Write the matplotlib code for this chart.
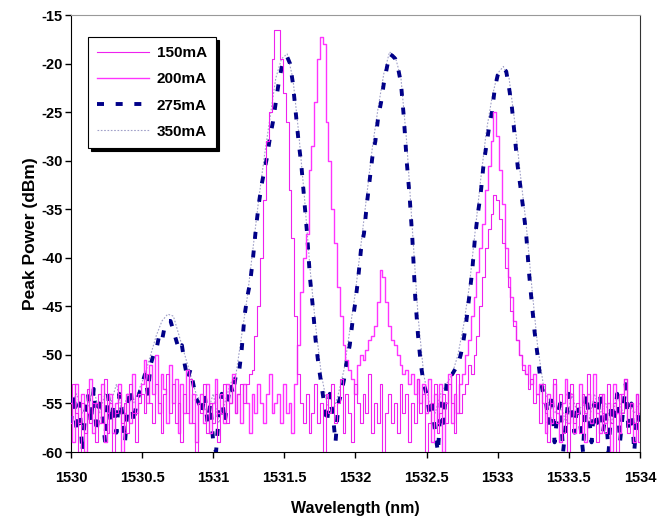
import numpy as np
import matplotlib
matplotlib.use('Agg')
import matplotlib.pyplot as plt

plt.rcParams['font.family'] = ['Liberation Sans', 'DejaVu Sans']
plt.rcParams['axes.unicode_minus'] = False

# wavelength grids (nm)
wl_fine = np.round(np.arange(0, 201) * 0.02 + 1530.0, 3)
wl_coarse = np.round(np.arange(0, 101) * 0.04 + 1530.0, 3)

# peak power (dBm)
p150 = [-57, -53, -56, -60, -55, -58, -53.5, -57, -55, -59,
        -54, -57, -52.5, -58, -55, -60, -56, -54, -57, -55,
        -58, -53, -56, -59, -55,
        -54, -56, -52, -55, -57, -53, -55, -58, -54, -52,
        -56, -53, -57, -55, -59, -54, -56, -52.5, -57, -60, -55,
        -56, -53, -58, -55, -57, -54, -59, -56, -53, -57,
        -55, -52.5, -56, -54, -53, -55,
        -53, -52, -51.5, -48, -45, -40, -34, -28, -25, -19.5,
        -16.5, -16.5, -19.5, -23, -26, -33, -38, -46, -52,
        -55, -57, -54, -58, -56, -53, -57, -55, -60, -54,
        -56, -53, -57, -55, -52.5, -58, -54, -56, -59, -53,
        -55, -57, -54, -56, -52, -58, -55, -57, -53, -60,
        -56, -54, -57, -55, -58, -53, -56, -54, -59, -55,
        -57, -52.5, -56, -54, -60, -57, -55, -53, -58, -56,
        -54, -57, -53, -55, -58, -52, -56, -54, -53, -51,
        -52, -50,
        -48, -45, -42, -39, -37, -35.5, -33.5, -34, -36, -38.5,
        -41, -43, -45.5, -47, -48.5, -50, -51.5, -52, -53.5, -52.5, -55,
        -54, -57, -53, -56, -59, -55, -52.5, -57, -54, -58,
        -56, -60, -53, -57, -55, -58, -54, -56, -52, -57,
        -55, -59, -54, -56, -58, -53, -57, -55, -60, -54,
        -56, -52.5, -58, -55, -57, -54, -59]

p200 = [-55, -59, -53, -57, -54, -60, -56, -52.5, -58, -55,
        -57, -53, -59, -56, -54, -58, -55, -53, -60, -56,
        -54, -57, -52, -56, -54,
        -53, -50.5, -55, -51, -54, -50, -56, -52, -53.5, -57,
        -51, -55, -52.5, -58, -53, -56, -51.5, -57, -54, -59, -55,
        -54, -57, -53, -58, -55, -52.5, -56, -54, -57, -53,
        -55, -52, -56, -54, -57, -53, -55, -58, -54, -56,
        -53, -55, -57, -54, -52, -56, -55,
        -54, -57, -53, -56, -55, -58, -53,
        -49, -43.5, -40, -37.5, -31, -28.5, -24, -19.5, -17.3, -18,
        -26, -30, -35, -38.5, -43, -46, -49, -50.5, -51.5, -52.5, -54,
        -51, -50, -50.5, -49.5, -48.5, -48, -47, -44.5, -41.3, -42,
        -44.5, -47, -48.5, -49, -50, -51, -52, -51.5, -53, -52,
        -54, -52.5, -55, -53,
        -56, -52.5, -59, -54, -57, -53, -60, -55, -52, -57,
        -54, -56, -53,
        -52, -50, -48.5, -46, -44, -41.5, -39, -36.5, -33, -30.5,
        -28, -25, -27.5, -31, -34.5, -39, -42, -44, -46.5, -48.5,
        -50, -51, -52, -51, -53, -52, -54, -53,
        -55, -58, -54, -57, -53, -56, -59, -55, -52.5, -57,
        -54, -58, -56, -53, -55, -59, -54, -57, -52, -56,
        -58, -54, -57, -55, -60, -53, -56, -58, -54, -52.5,
        -57, -55, -59, -54, -56]

p275 = [-57, -54, -58, -55, -60, -56, -54, -57, -53.5, -58,
        -55, -56, -59, -54, -57, -55, -58, -54, -56, -59,
        -55, -53.5, -57, -55, -54,
        -53, -52, -54, -51, -50, -49.5, -48, -48.5, -47, -46.5,
        -46.5, -47.5, -48.5, -49.5, -49, -51, -52.5, -51.5, -53, -54.5, -55,
        -56, -54, -57, -55, -59, -60, -56, -54, -57, -55, -53, -54, -52,
        -52, -49.5, -46, -44, -42.5, -40, -37, -34.5, -32.5, -31,
        -29.5, -27.5, -26, -24, -22, -20.5, -19.5, -19.3, -20, -22,
        -25, -28, -30.5, -34, -37.5, -42, -45, -48.5, -51, -53,
        -55, -57, -54, -56, -59, -55,
        -54, -52.5, -50.5, -49, -46.5, -44.5, -42, -39, -37.5, -34.5,
        -32, -29.5, -28, -25.5, -24, -22, -20.5, -19, -19.2, -19.5,
        -20.5, -22, -25.5, -30, -33.5, -38, -44, -48, -51, -53,
        -54, -56, -55, -58, -60, -55, -57, -53,
        -52, -52, -51.5, -51, -50, -48.5, -46.5, -44, -41.5, -38,
        -35.5, -33.5, -30.5, -28.5, -26.5, -25, -22.5, -21.2, -20.5, -20.5,
        -20.8, -22.5, -24.5, -27.5, -30.5, -32.7, -35, -37.5, -41.5, -44.7,
        -47.7, -50, -52.5, -54,
        -55, -57, -54, -59, -56, -55, -60, -57, -54, -56,
        -58, -55, -57, -60, -54, -56, -59, -55, -57, -54,
        -58, -56, -60, -55, -57, -54, -59, -56, -53, -58,
        -55, -60, -56, -57]

p350 = [-55, -54, -56, -55, -53.5, -56, -54, -55, -53, -56, -54, -55, -53.5,
        -52, -50, -48, -46.5, -45.8, -46, -48, -50, -52, -54,
        -55, -56, -54, -57, -55, -53,
        -52, -48, -44, -39, -34, -29.5, -25.5, -21.5, -19.5, -19,
        -21.5, -27, -33.5, -41, -47, -52,
        -55, -56, -54,
        -51.5, -47.5, -43.5, -38.5, -33.5, -28.5, -24.5, -21, -18.8, -19.3,
        -21.5, -28, -37, -46, -52,
        -55, -56, -54, -53,
        -52, -50, -47, -43, -37.5, -32, -27, -23.5, -21, -20.3,
        -21.5, -26, -31.5, -36.5, -43, -49, -53, -55,
        -56, -55, -57, -54, -56, -55, -57, -54, -56, -55, -57, -54,
        -56, -55, -56, -55]

x_ticks = [1530, 1530.5, 1531, 1531.5, 1532, 1532.5, 1533, 1533.5, 1534]
x_labels = ['1530', '1530.5', '1531', '1531.5', '1532', '1532.5', '1533', '1533.5', '1534']
y_ticks = [-60, -55, -50, -45, -40, -35, -30, -25, -20, -15]

fig = plt.figure(figsize=(6.67, 5.19), dpi=100)
ax = fig.add_axes([0.1064, 0.129, 0.853, 0.842])

ax.plot(wl_coarse, p350, color='#a0a0c8', lw=0.8, ls=(0, (1.5, 1.5)), label='350mA', zorder=2)
ax.plot(wl_fine, p275, color='#000088', lw=2.8, ls=(0, (1.8, 3.0)), label='275mA', zorder=3)
ax.plot(wl_fine, p200, color='#ff33ff', lw=1.0, drawstyle='steps-mid', label='200mA', zorder=4)
ax.plot(wl_fine, p150, color='#ee22ee', lw=0.8, drawstyle='steps-mid', label='150mA', zorder=5)

ax.set_xlim(1530, 1534)
ax.set_ylim(-60, -15)
ax.set_xticks(x_ticks)
ax.set_xticklabels(x_labels)
ax.set_yticks(y_ticks)
ax.tick_params(direction='out', length=4, width=1, labelsize=10.5)
ax.tick_params(axis='x', pad=10)
ax.tick_params(axis='y', pad=2)
for lab in ax.get_xticklabels() + ax.get_yticklabels():
    lab.set_fontweight('bold')

ax.set_xlabel('Wavelength (nm)', fontsize=11.5, fontweight='bold', labelpad=11)
ax.set_ylabel('Peak Power (dBm)', fontsize=12.5, fontweight='bold', labelpad=2)

ax.spines['top'].set_color('#999999')
ax.spines['right'].set_color('#333333')

handles, labels = ax.get_legend_handles_labels()
order = [3, 2, 1, 0]
leg = ax.legend([handles[i] for i in order], [labels[i] for i in order],
                loc='upper left', bbox_to_anchor=(0.03, 0.95), borderaxespad=0,
                fancybox=False, shadow={'color': 'black', 'alpha': 1.0},
                framealpha=1, edgecolor='black', handlelength=3.4,
                labelspacing=0.8, borderpad=0.6, handletextpad=0.5,
                prop={'weight': 'bold', 'size': 11})
leg.get_frame().set_linewidth(0.8)

fig.savefig('out.png', dpi=100)
